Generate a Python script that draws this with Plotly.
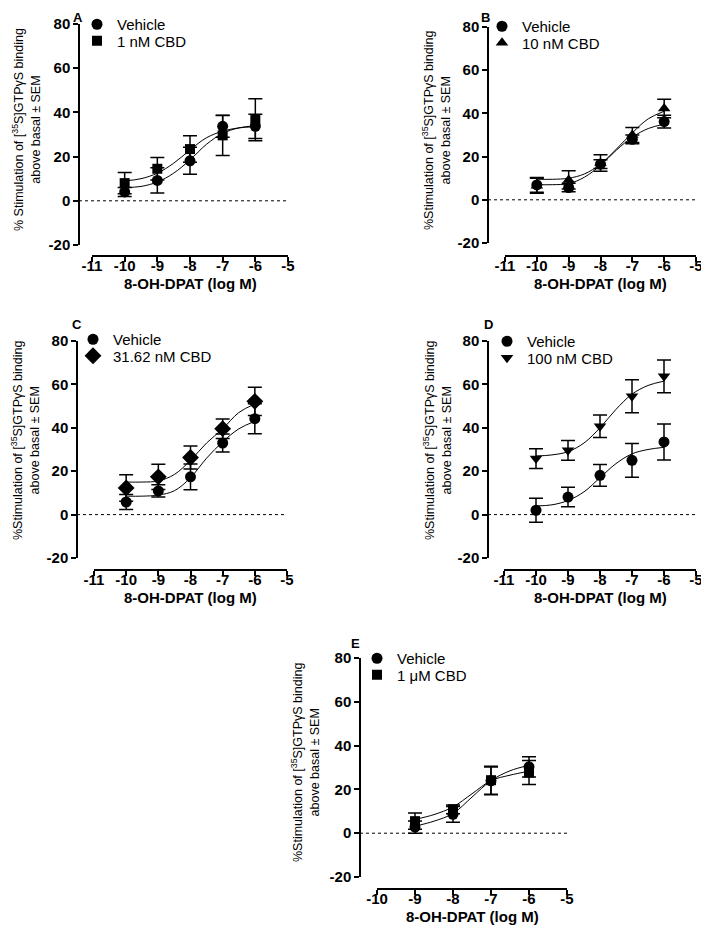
import plotly.graph_objects as go

# page body has an 8px margin, so the figure is drawn 8px in from the top-left
OFF = 8
W, H = 709 - OFF, 928 - OFF
FONT = "Liberation Sans, Arial, sans-serif"

# doses (log M)
conc = [-10, -9, -8, -7, -6]
conc_e = [-9, -8, -7, -6]
fit_x = [-10, -9.5, -9, -8.5, -8, -7.5, -7, -6.5, -6]
fit_x_e = [-9, -8.5, -8, -7.5, -7, -6.5, -6]

x_ticks = [-11, -10, -9, -8, -7, -6, -5]
x_labels = ["-11", "-10", "-9", "-8", "-7", "-6", "-5"]
y_ticks = [-20, 0, 20, 40, 60, 80]
y_labels = ["-20", "0", "20", "40", "60", "80"]

# A: vehicle vs 1 nM CBD
a_veh = [4, 9.2, 18.1, 33.7, 33.7]
a_veh_err = [2, 5.7, 6.1, 4.9, 5.5]
a_cbd = [8, 14.5, 23.4, 29.6, 36.7]
a_cbd_err = [4.8, 5.1, 6.0, 9.1, 9.5]
a_veh_fit = [6, 6.5, 8.5, 12.5, 18.5, 25.5, 30.5, 33, 34]
a_cbd_fit = [9, 10, 12.5, 17, 23, 28.5, 31.5, 33, 33.5]

# B: vehicle vs 10 nM CBD
b_veh = [6.9, 5.7, 16.5, 28, 36.2]
b_veh_err = [3.4, 2, 2, 2, 3]
b_cbd = [6.5, 9.2, 17, 30, 42.3]
b_cbd_err = [3.5, 4.2, 3.8, 3.5, 4.3]
b_veh_fit = [7, 7, 7.5, 10.5, 16, 23, 29, 33, 35]
b_cbd_fit = [9.5, 9.5, 10, 12, 16.5, 23.5, 31, 37.5, 41]

# C: vehicle vs 31.62 nM CBD
c_veh = [5.8, 10.9, 17.4, 33, 44.2]
c_veh_err = [3.5, 2.8, 5.9, 4.1, 6.9]
c_cbd = [12.3, 17.4, 26.3, 39.6, 52.2]
c_cbd_err = [6.1, 5.8, 5.3, 4.5, 6.5]
c_veh_fit = [8.5, 8.5, 9, 11, 17, 26, 33.5, 39.5, 43]
c_cbd_fit = [15, 15, 15.5, 18.5, 25, 33, 39.5, 47, 51]

# D: vehicle vs 100 nM CBD
d_veh = [2, 8.1, 18.1, 25, 33.5]
d_veh_err = [5.5, 4.5, 5, 7.8, 8.3]
d_cbd = [25.8, 29.6, 40.7, 54.5, 63.7]
d_cbd_err = [4.6, 4.6, 5.2, 7.6, 7.5]
d_veh_fit = [4, 4.5, 6.5, 10.5, 17, 23.5, 28, 30, 31]
d_cbd_fit = [27, 27.5, 29, 33, 40, 48.5, 55.5, 59.5, 61.5]

# E: vehicle vs 1 uM CBD
e_veh = [2.8, 8.6, 23.9, 30.3]
e_veh_err = [2.8, 3.6, 6.3, 4.6]
e_cbd = [5.5, 10.9, 24.2, 27.7]
e_cbd_err = [3.7, 2, 6.4, 5.5]
e_veh_fit = [3.2, 5.5, 9, 16.5, 24, 28.5, 31]
e_cbd_fit = [6.3, 8.5, 12, 18, 24, 26.5, 28.3]

ytitle_a = "% Stimulation of [<sup>35</sup>S]GTPγS binding<br>above basal ± SEM"
ytitle = "%Stimulation of [<sup>35</sup>S]GTPγS binding<br>above basal ± SEM"

# layout in page pixels: ax = y-axis line x, x0/x1 = x-axis extent, ytop/ybot = y of 80/-20,
# xline = x-axis line y, (tx, ty) = y-title centre, (lx, ly) = first legend marker
panels = [
    dict(letter="A", label="1 nM CBD", sym="square", x=conc, fx=fit_x,
         veh=a_veh, veh_err=a_veh_err, cbd=a_cbd, cbd_err=a_cbd_err,
         veh_fit=a_veh_fit, cbd_fit=a_cbd_fit, xr=[-11, -5], ytitle=ytitle_a,
         ax=79, x0=92, x1=288, ytop=24, ybot=245, xline=256, tx=26, ty=130,
         lx=97, ly=24, let=(78, 17)),
    dict(letter="B", label="10 nM CBD", sym="triangle-up", x=conc, fx=fit_x,
         veh=b_veh, veh_err=b_veh_err, cbd=b_cbd, cbd_err=b_cbd_err,
         veh_fit=b_veh_fit, cbd_fit=b_cbd_fit, xr=[-11, -5], ytitle=ytitle,
         ax=488, x0=505, x1=696, ytop=27, ybot=243, xline=256, tx=437, ty=131,
         lx=502, ly=26, let=(485, 17)),
    dict(letter="C", label="31.62 nM CBD", sym="diamond", x=conc, fx=fit_x,
         veh=c_veh, veh_err=c_veh_err, cbd=c_cbd, cbd_err=c_cbd_err,
         veh_fit=c_veh_fit, cbd_fit=c_cbd_fit, xr=[-11, -5], ytitle=ytitle,
         ax=77, x0=94, x1=287, ytop=341, ybot=558, xline=570, tx=25, ty=441,
         lx=93, ly=339, let=(77, 325)),
    dict(letter="D", label="100 nM CBD", sym="triangle-down", x=conc, fx=fit_x,
         veh=d_veh, veh_err=d_veh_err, cbd=d_cbd, cbd_err=d_cbd_err,
         veh_fit=d_veh_fit, cbd_fit=d_cbd_fit, xr=[-11, -5], ytitle=ytitle,
         ax=488, x0=504, x1=696, ytop=341, ybot=558, xline=570, tx=437, ty=441,
         lx=507, ly=341, let=(488, 325)),
    dict(letter="E", label="1 μM CBD", sym="square", x=conc_e, fx=fit_x_e,
         veh=e_veh, veh_err=e_veh_err, cbd=e_cbd, cbd_err=e_cbd_err,
         veh_fit=e_veh_fit, cbd_fit=e_cbd_fit, xr=[-10, -5], ytitle=ytitle,
         ax=360, x0=377, x1=567, ytop=658, ybot=877, xline=889, tx=305, ty=763,
         lx=377, ly=658, let=(355, 643)),
]

SYM_SIZE = {"circle": 11, "square": 10, "triangle-up": 11, "triangle-down": 11, "diamond": 13}


def px(p):
    return (p - OFF) / W


def py(p):
    return 1 - (p - OFF) / H


fig = go.Figure()
tickfont = dict(family=FONT, size=15, color="black", weight="bold")
axis_common = dict(showline=True, linewidth=1.5, linecolor="black", ticks="outside",
                   ticklen=5, tickwidth=1.5, tickcolor="black", showgrid=False,
                   zeroline=False, tickfont=tickfont, anchor="free", automargin=False,
                   tickmode="array")

legend_n = 0
for i, p in enumerate(panels, start=1):
    sfx = "" if i == 1 else str(i)
    xa, ya = "x" + sfx, "y" + sfx

    fig.update_layout({
        "xaxis" + sfx: dict(axis_common, domain=[px(p["x0"]), px(p["x1"])], range=p["xr"],
                            position=py(p["xline"]), tickvals=x_ticks, ticktext=x_labels,
                            ticklabelstandoff=-9),
        "yaxis" + sfx: dict(axis_common, domain=[py(p["ybot"]), py(p["ytop"])], range=[-20, 80],
                            position=px(p["ax"]), tickvals=y_ticks, ticktext=y_labels),
    })

    # fitted curves
    for fy in (p["veh_fit"], p["cbd_fit"]):
        fig.add_trace(go.Scatter(x=p["fx"], y=fy, mode="lines", showlegend=False,
                                 line=dict(color="black", width=1, shape="spline"),
                                 xaxis=xa, yaxis=ya, hoverinfo="skip"))

    series = [("Vehicle", "circle", p["veh"], p["veh_err"]),
              (p["label"], p["sym"], p["cbd"], p["cbd_err"])]
    for k, (name, sym, yv, ev) in enumerate(series):
        legend_n += 1
        leg = "legend" if legend_n == 1 else "legend" + str(legend_n)
        fig.update_layout({leg: dict(x=px(p["lx"] - 20), y=py(p["ly"] + 16.5 * k - 16),
                                     xanchor="left", yanchor="top", bgcolor="rgba(0,0,0,0)",
                                     font=dict(family=FONT, size=15, color="black"),
                                     itemwidth=30)})
        fig.add_trace(go.Scatter(x=p["x"], y=yv, mode="markers", name=name,
                                 marker=dict(symbol=sym, size=SYM_SIZE[sym], color="black"),
                                 error_y=dict(type="data", array=ev, color="black",
                                              thickness=1.5, width=7),
                                 xaxis=xa, yaxis=ya, legend=leg))

    # dotted zero line
    fig.add_shape(type="line", xref="paper", yref=ya, x0=px(p["ax"]), x1=px(p["x1"]),
                  y0=0, y1=0, line=dict(color="black", width=1, dash="dot"))

    fig.add_annotation(text="<b>" + p["letter"] + "</b>", xref="paper", yref="paper",
                       x=px(p["let"][0]), y=py(p["let"][1]), xanchor="center", yanchor="middle",
                       showarrow=False, font=dict(family=FONT, size=13, color="black"))
    fig.add_annotation(text=p["ytitle"], xref="paper", yref="paper", textangle=-90,
                       x=px(p["tx"]), y=py(p["ty"]), xanchor="center", yanchor="middle",
                       showarrow=False,
                       font=dict(family=FONT, size=12.5, color="black"))
    fig.add_annotation(text="8-OH-DPAT (log M)", xref="paper", yref="paper",
                       x=px((p["x0"] + p["x1"]) / 2), y=py(p["xline"] + 27),
                       xanchor="center", yanchor="middle", showarrow=False,
                       font=dict(family=FONT, size=15, color="black", weight="bold"))

fig.update_layout(width=W, height=H, margin=dict(l=0, r=0, t=0, b=0),
                  paper_bgcolor="white", plot_bgcolor="white")

fig.write_html("out.html")
